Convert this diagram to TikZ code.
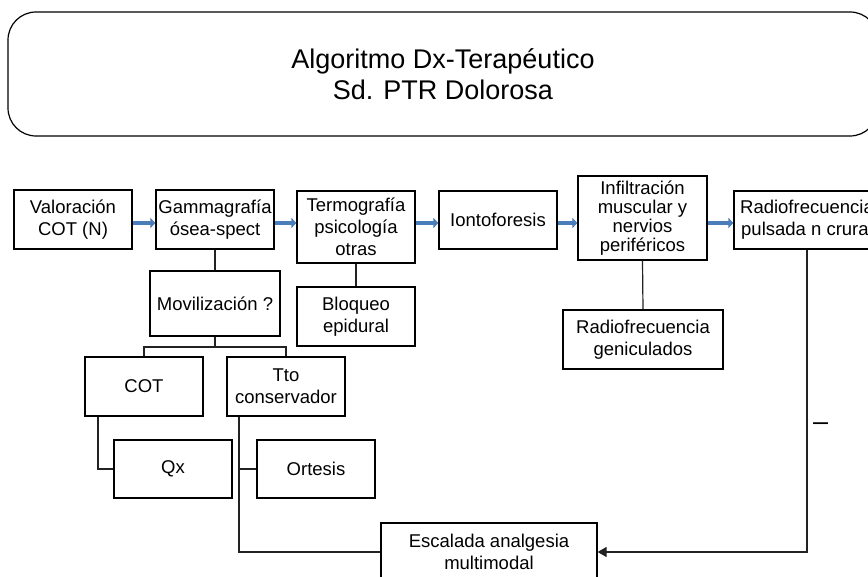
\documentclass[tikz,border=0pt]{standalone}
\usepackage{fontspec}
\setmainfont{Liberation Sans}
\usetikzlibrary{arrows.meta}
\definecolor{arrowblue}{HTML}{4A7EBB}
\definecolor{linegray}{HTML}{222222}
\begin{document}
\begin{tikzpicture}[x=1pt,y=-1pt,
  box/.style={draw=black, line width=1.2pt, inner sep=0pt, align=center,
    font=\fontsize{18.5}{22}\selectfont, text=black},
  flow/.style={draw=arrowblue, line width=4pt, -{Triangle[length=5pt,width=10pt]}},
  link/.style={draw=linegray, line width=1.2pt}]
\useasboundingbox (0,0) rectangle (868,577);
\clip (0,0) rectangle (868,577);
\fill[white] (0,0) rectangle (868,577);
% title
\node[draw=black, line width=1.2pt, rounded corners=28pt, minimum width=870pt, minimum height=124pt,
  font=\fontsize{27}{31}\selectfont, align=center] (title) at (443,74)
  {Algoritmo Dx-Terapéutico\\Sd. PTR Dolorosa};
% top row
\node[box, minimum width=118pt, minimum height=59pt] (val) at (73,219.5) {Valoración\\COT (N)};
\node[box, minimum width=118pt, minimum height=59pt] (gam) at (215,219.5) {Gammagrafía\\ósea-spect};
\node[box, minimum width=118pt, minimum height=72pt] (ter) at (356,227) {Termografía\\psicología\\otras};
\node[box, minimum width=118pt, minimum height=58pt] (ion) at (498,220) {Iontoforesis};
\node[box, minimum width=129pt, minimum height=84pt, font=\fontsize{18.5}{19}\selectfont] (inf) at (642.5,218)
  {Infiltración\\muscular y\\nervios\\periféricos};
\node[box, minimum width=146pt, minimum height=58pt] (rad) at (807,220) {Radiofrecuencia\\pulsada n crural};
% second level
\node[box, minimum width=130pt, minimum height=65pt] (mov) at (215,303.5) {Movilización ?};
\node[box, minimum width=118pt, minimum height=59pt] (blo) at (356,316.5) {Bloqueo\\epidural};
\node[box, minimum width=160pt, minimum height=59pt] (rgen) at (643,339.5) {Radiofrecuencia\\geniculados};
\node[box, minimum width=118pt, minimum height=59pt] (cot) at (144,386.5) {COT};
\node[box, minimum width=118pt, minimum height=59pt] (tto) at (286,386.5) {Tto\\conservador};
\node[box, minimum width=118pt, minimum height=58pt] (qx) at (173,469) {Qx};
\node[box, minimum width=118pt, minimum height=58pt] (ort) at (316,469) {Ortesis};
\node[box, minimum width=216pt, minimum height=58pt] (esc) at (489,552) {Escalada analgesia\\multimodal};
\node[font=\fontsize{27}{31}\selectfont, inner sep=0pt, anchor=base west] (dash) at (813,430.5) {–};
% blue flow arrows
\coordinate (ya) at (0,223);
\draw[flow] (val.east |- ya) -- (gam.west |- ya);
\draw[flow] (gam.east |- ya) -- (ter.west |- ya);
\draw[flow] (ter.east |- ya) -- (ion.west |- ya);
\draw[flow] (ion.east |- ya) -- (inf.west |- ya);
\draw[flow] (inf.east |- ya) -- (rad.west |- ya);
% links
\draw[link] (gam.south) -- (mov.north);
\draw[link] (ter.south) -- (blo.north);
\draw[link] (inf.south) -- (rgen.north);
\coordinate (fork) at (215,347);
\draw[link] (mov.south) -- (fork);
\draw[link] (cot.north) |- (fork) -| (tto.north);
\coordinate (c1) at (98,469);
\draw[link] (cot.south -| c1) |- (qx.west);
\coordinate (t1) at (239,552);
\draw[link] (tto.south -| t1) -- (t1) -- (esc.west);
\draw[link] (ort.west -| t1) -- (ort.west);
\draw[link, -{Triangle[length=9pt,width=10pt]}] (rad.south) |- (esc.east);
\end{tikzpicture}
\end{document}
